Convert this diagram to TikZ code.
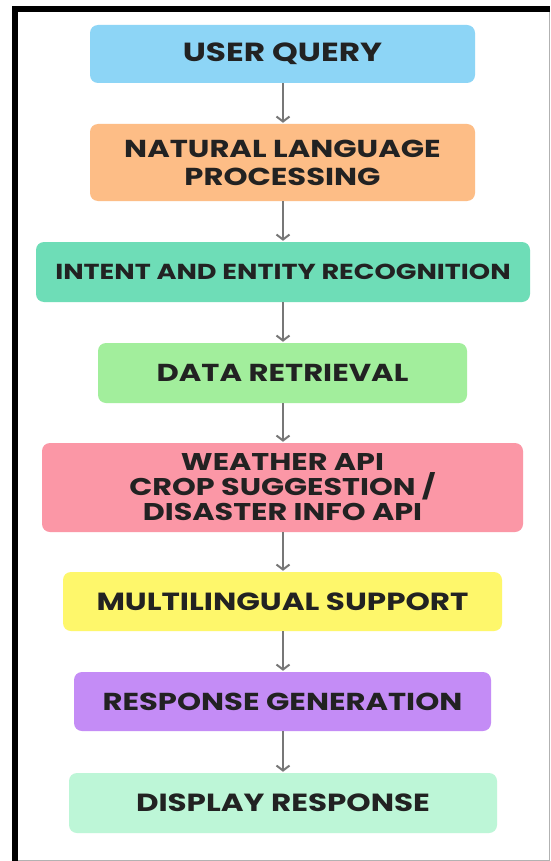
\documentclass[tikz,border=0pt]{standalone}
\usepackage{fontspec}
\setmainfont{Poppins}
\newfontfamily\boxfont{Poppins}[FakeStretch=1.25]
\usetikzlibrary{arrows.meta}
\definecolor{cA}{HTML}{8DD5F6}
\definecolor{cB}{HTML}{FDBD86}
\definecolor{cC}{HTML}{6EDDB7}
\definecolor{cD}{HTML}{A2EE9C}
\definecolor{cE}{HTML}{FB97A6}
\definecolor{cF}{HTML}{FEF76B}
\definecolor{cG}{HTML}{C48CF6}
\definecolor{cH}{HTML}{BDF6D7}
\definecolor{txt}{HTML}{222222}
\definecolor{arrgray}{HTML}{777777}
\newcommand{\fs}[2]{\fontsize{#1}{#2}\selectfont}
\tikzset{
  stepbox/.style={rounded corners=8pt, draw=none, inner sep=0pt, align=center, text=txt},
  flowarrow/.style={draw=arrgray, line width=2.2pt, -{Straight Barb[length=5pt,width=13pt,line width=2pt]}, shorten >=1pt}
}
\begin{document}
\begin{tikzpicture}[x=1pt,y=-1pt]
\fill[white] (0,0) rectangle (550,861);
\useasboundingbox (0,0) rectangle (550,861);
% frame
\draw[gray!60, line width=1pt] (17,860) -- (549,860) -- (549,11);
\draw[black, line width=5.5pt] (14.8,861) -- (14.8,8.8) -- (550,8.8);
% boxes
\node[stepbox, fill=cA, minimum width=385pt, minimum height=58pt, font=\boxfont\bfseries\fs{26.2}{28}] (q) at (282.5,54) {USER QUERY};
\node[stepbox, fill=cB, minimum width=385pt, minimum height=77pt, font=\boxfont\bfseries\fs{24.5}{28}] (nlp) at (282.5,162.5) {NATURAL LANGUAGE\\PROCESSING};
\node[stepbox, fill=cC, minimum width=494pt, minimum height=60pt, font=\boxfont\bfseries\fs{21.7}{24}] (ier) at (283,272) {INTENT AND ENTITY RECOGNITION};
\node[stepbox, fill=cD, minimum width=369pt, minimum height=60pt, font=\boxfont\bfseries\fs{24.5}{26}] (dr) at (282.5,373) {DATA RETRIEVAL};
\node[stepbox, fill=cE, minimum width=481pt, minimum height=89pt, font=\boxfont\bfseries\fs{24.2}{25}] (api) at (282.5,487.5) {WEATHER API\\CROP SUGGESTION /\\DISASTER INFO API};
\node[stepbox, fill=cF, minimum width=439pt, minimum height=59pt, font=\boxfont\bfseries\fs{24.8}{26}] (ml) at (282.5,601.5) {MULTILINGUAL SUPPORT};
\node[stepbox, fill=cG, minimum width=417pt, minimum height=59pt, font=\boxfont\bfseries\fs{24.5}{26}] (rg) at (282.5,701.5) {RESPONSE GENERATION};
\node[stepbox, fill=cH, minimum width=428pt, minimum height=60pt, font=\boxfont\bfseries\fs{24.8}{26}] (disp) at (283,803) {DISPLAY RESPONSE};
% arrows
\draw[flowarrow] (q.south -| 283,0) -- (nlp.north -| 283,0);
\draw[flowarrow] (nlp.south -| 283,0) -- (ier.north -| 283,0);
\draw[flowarrow] (ier.south -| 283,0) -- (dr.north -| 283,0);
\draw[flowarrow] (dr.south -| 283,0) -- (api.north -| 283,0);
\draw[flowarrow] (api.south -| 283,0) -- (ml.north -| 283,0);
\draw[flowarrow] (ml.south -| 283,0) -- (rg.north -| 283,0);
\draw[flowarrow] (rg.south -| 283,0) -- (disp.north -| 283,0);
\end{tikzpicture}
\end{document}
